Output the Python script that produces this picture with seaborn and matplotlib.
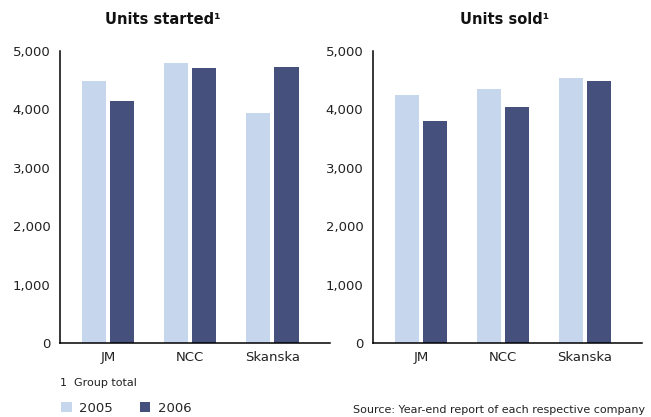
import matplotlib
matplotlib.use("Agg")
import matplotlib.pyplot as plt
import pandas as pd
import seaborn as sns
from matplotlib.ticker import FuncFormatter

companies = ["JM", "NCC", "Skanska"]
years = ["2005", "2006"]
started_2005 = [4490, 4790, 3940]
started_2006 = [4140, 4710, 4720]
sold_2005 = [4250, 4350, 4540]
sold_2006 = [3800, 4040, 4490]

colors = {"2005": "#c6d6ec", "2006": "#46507c"}

def to_long(v05, v06):
    rows = []
    for c, a, b in zip(companies, v05, v06):
        rows.append({"company": c, "year": "2005", "units": a})
        rows.append({"company": c, "year": "2006", "units": b})
    return pd.DataFrame(rows)

df_started = to_long(started_2005, started_2006)
df_sold = to_long(sold_2005, sold_2006)

sns.set_style("white")
plt.rcParams['font.family'] = ['DejaVu Sans']

fig = plt.figure(figsize=(6.51, 4.17), dpi=100)
ax1 = fig.add_axes([60/651, 1-343/417, 270/651, 292/417])
ax2 = fig.add_axes([373/651, 1-343/417, 269/651, 292/417])

fmt = FuncFormatter(lambda v, p: f"{int(v):,}")

for ax, df in [(ax1, df_started), (ax2, df_sold)]:
    sns.barplot(data=df, x="company", y="units", hue="year", order=companies,
                hue_order=years, palette=colors, width=0.683, gap=0.143,
                saturation=1, linewidth=0, ax=ax)
    ax.set_ylim(0, 5000)
    ax.set_xlim(-0.585, 2.7)
    ax.set_yticks([0, 1000, 2000, 3000, 4000, 5000])
    ax.yaxis.set_major_formatter(fmt)
    ax.set_xlabel("")
    ax.set_ylabel("")
    for s in ["top", "right"]:
        ax.spines[s].set_visible(False)
    for s in ["left", "bottom"]:
        ax.spines[s].set_color("black")
        ax.spines[s].set_linewidth(1.1)
    ax.tick_params(axis="y", length=6, width=1, color="black", labelsize=9.5,
                   labelcolor="#222222", pad=1)
    ax.tick_params(axis="x", length=0, labelsize=9.5, labelcolor="#222222", pad=6)
    ax.get_legend().remove()

fig.text(163/651, 1-20/417, "Units started¹", ha="center", va="center",
         fontsize=10.5, fontweight="bold", color="#111111")
fig.text(505/651, 1-20/417, "Units sold¹", ha="center", va="center",
         fontsize=10.5, fontweight="bold", color="#111111")

fig.text(60/651, 1-383/417, "1  Group total", ha="left", va="center",
         fontsize=8, color="#222222")

handles, labels = ax1.get_legend_handles_labels()
fig.legend(handles, labels, loc="center left", bbox_to_anchor=(61/651, 1-408/417),
           ncol=2, frameon=False, fontsize=9.5, handlelength=0.8, handleheight=0.8,
           handletextpad=0.6, columnspacing=2.0, borderaxespad=0, borderpad=0)

fig.text(645/651, 1-410/417, "Source: Year-end report of each respective company",
         ha="right", va="center", fontsize=8, color="#222222")

fig.savefig("out.png", dpi=100)
